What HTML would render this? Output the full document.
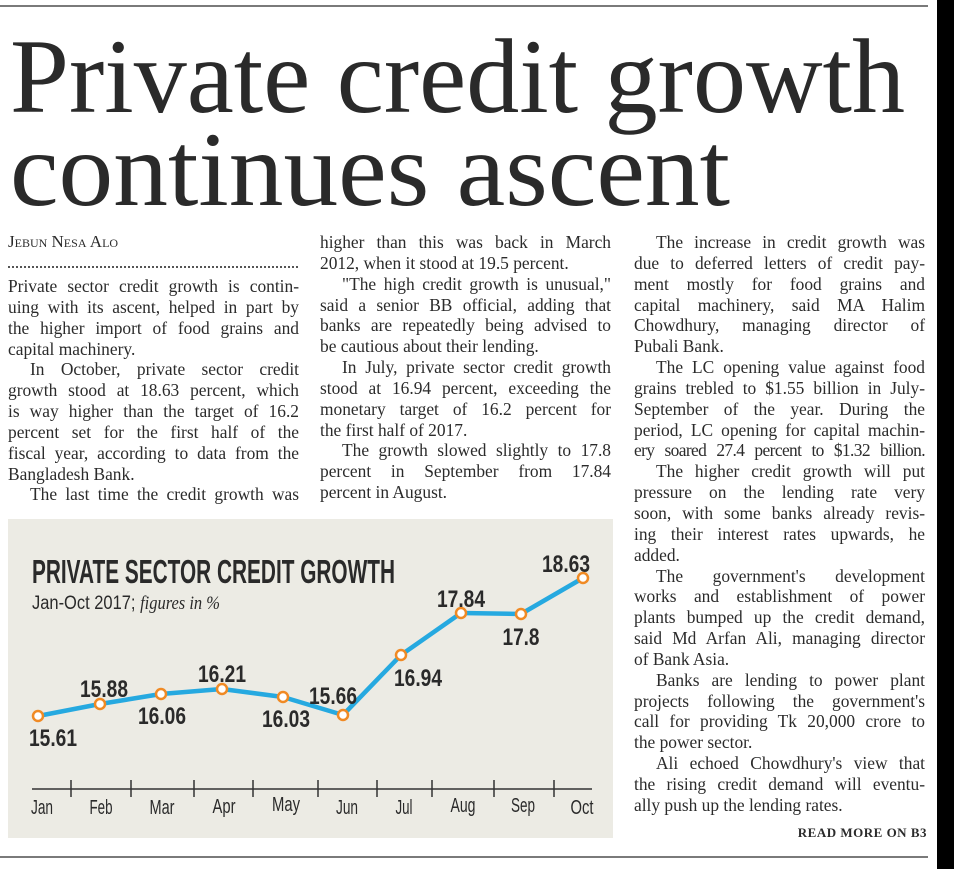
<!DOCTYPE html>
<html><head><meta charset="utf-8">
<style>
html,body{margin:0;padding:0;background:#fff;}
body{width:954px;height:869px;position:relative;overflow:hidden;font-family:"Liberation Serif",serif;color:#2b2b2b;}
.col{position:absolute;width:291px;font-size:17.4px;line-height:20.85px;}
.col div{text-align:justify;text-align-last:justify;white-space:nowrap;height:20.85px;}
.col div.e{text-align-last:left;}
.col div.i{text-indent:22px;}
</style></head><body>
<div style="position:absolute;left:0;top:5px;width:928px;height:1.5px;background:#7a7a7a"></div>
<div style="position:absolute;left:0;top:856px;width:928px;height:1.5px;background:#7a7a7a"></div>
<div style="position:absolute;left:937px;top:0;width:17px;height:869px;background:#000"></div>
<svg style="position:absolute;left:0;top:0" width="954" height="230">
<text x="10" y="112" font-family="Liberation Serif" font-size="106" fill="#2a2a2a" textLength="895" lengthAdjust="spacingAndGlyphs">Private credit growth</text>
<text x="10" y="205" font-family="Liberation Serif" font-size="106" fill="#2a2a2a" textLength="720" lengthAdjust="spacingAndGlyphs">continues ascent</text>
</svg>
<div style="position:absolute;left:8px;top:232px;font-size:17px;font-variant:small-caps;color:#2b2b2b">Jebun Nesa Alo</div>
<div style="position:absolute;left:8px;top:266px;width:290px;border-top:2px dotted #555"></div>
<div class="col" style="left:8px;top:276px">
<div>Private sector credit growth is contin-</div>
<div>uing with its ascent, helped in part by</div>
<div>the higher import of food grains and</div>
<div class="e">capital machinery.</div>
<div class="i">In October, private sector credit</div>
<div>growth stood at 18.63 percent, which</div>
<div>is way higher than the target of 16.2</div>
<div>percent set for the first half of the</div>
<div>fiscal year, according to data from the</div>
<div class="e">Bangladesh Bank.</div>
<div class="i">The last time the credit growth was</div>
</div>
<div class="col" style="left:320px;top:232px">
<div>higher than this was back in March</div>
<div class="e">2012, when it stood at 19.5 percent.</div>
<div class="i">"The high credit growth is unusual,"</div>
<div>said a senior BB official, adding that</div>
<div>banks are repeatedly being advised to</div>
<div class="e">be cautious about their lending.</div>
<div class="i">In July, private sector credit growth</div>
<div>stood at 16.94 percent, exceeding the</div>
<div>monetary target of 16.2 percent for</div>
<div class="e">the first half of 2017.</div>
<div class="i">The growth slowed slightly to 17.8</div>
<div>percent in September from 17.84</div>
<div class="e">percent in August.</div>
</div>
<div class="col" style="left:634px;top:232px">
<div class="i">The increase in credit growth was</div>
<div>due to deferred letters of credit pay-</div>
<div>ment mostly for food grains and</div>
<div>capital machinery, said MA Halim</div>
<div>Chowdhury, managing director of</div>
<div class="e">Pubali Bank.</div>
<div class="i">The LC opening value against food</div>
<div>grains trebled to $1.55 billion in July-</div>
<div>September of the year. During the</div>
<div>period, LC opening for capital machin-</div>
<div style="letter-spacing:-0.6px">ery soared 27.4 percent to $1.32 billion.</div>
<div class="i">The higher credit growth will put</div>
<div>pressure on the lending rate very</div>
<div>soon, with some banks already revis-</div>
<div>ing their interest rates upwards, he</div>
<div class="e">added.</div>
<div class="i">The government's development</div>
<div>works and establishment of power</div>
<div>plants bumped up the credit demand,</div>
<div>said Md Arfan Ali, managing director</div>
<div class="e">of Bank Asia.</div>
<div class="i">Banks are lending to power plant</div>
<div>projects following the government's</div>
<div>call for providing Tk 20,000 crore to</div>
<div class="e">the power sector.</div>
<div class="i">Ali echoed Chowdhury's view that</div>
<div>the rising credit demand will eventu-</div>
<div class="e">ally push up the lending rates.</div>
</div>
<div style="position:absolute;right:27px;top:825px;font-size:13px;font-weight:bold;letter-spacing:0.5px;color:#2b2b2b">READ MORE ON B3</div>

<svg style="position:absolute;left:0;top:0" width="954" height="869" font-family="'Liberation Sans Narrow','Liberation Sans',sans-serif">
<rect x="8" y="519" width="605" height="319" fill="#ecebe4"/>
<text x="32" y="583" font-size="33" font-weight="bold" fill="#2a2a2a" textLength="363" lengthAdjust="spacingAndGlyphs">PRIVATE SECTOR CREDIT GROWTH</text>
<text x="32" y="609" font-size="19" fill="#2a2a2a" textLength="188" lengthAdjust="spacingAndGlyphs">Jan-Oct 2017; <tspan font-family="Liberation Serif" font-style="italic">figures in %</tspan></text>
<polyline points="38,716 100,704 161,694 222,689 283,697 343,715 401,655 461,613 521,614 583,578" fill="none" stroke="#26a9e0" stroke-width="4.5" stroke-linejoin="round"/>
<g fill="#fff" stroke="#f08a24" stroke-width="2.5">
<circle cx="38" cy="716" r="5"/><circle cx="100" cy="704" r="5"/><circle cx="161" cy="694" r="5"/><circle cx="222" cy="689" r="5"/><circle cx="283" cy="697" r="5"/><circle cx="343" cy="715" r="5"/><circle cx="401" cy="655" r="5"/><circle cx="461" cy="613" r="5"/><circle cx="521" cy="614" r="5"/><circle cx="583" cy="578" r="5"/>
</g>
<g font-size="24" font-weight="bold" fill="#2a2a2a" text-anchor="middle" lengthAdjust="spacingAndGlyphs">
<text x="53" y="746" textLength="48" lengthAdjust="spacingAndGlyphs">15.61</text>
<text x="104" y="697" textLength="48" lengthAdjust="spacingAndGlyphs">15.88</text>
<text x="162" y="724" textLength="48" lengthAdjust="spacingAndGlyphs">16.06</text>
<text x="222" y="682" textLength="48" lengthAdjust="spacingAndGlyphs">16.21</text>
<text x="286" y="727" textLength="48" lengthAdjust="spacingAndGlyphs">16.03</text>
<text x="333" y="704" textLength="48" lengthAdjust="spacingAndGlyphs">15.66</text>
<text x="418" y="686" textLength="48" lengthAdjust="spacingAndGlyphs">16.94</text>
<text x="461" y="607" textLength="48" lengthAdjust="spacingAndGlyphs">17.84</text>
<text x="521" y="645" textLength="37" lengthAdjust="spacingAndGlyphs">17.8</text>
<text x="566" y="572" textLength="48" lengthAdjust="spacingAndGlyphs">18.63</text>
</g>
<line x1="32" y1="789" x2="592" y2="789" stroke="#333" stroke-width="1.5"/>
<g stroke="#333" stroke-width="1.5">
<line x1="71" y1="780" x2="71" y2="797"/><line x1="131" y1="780" x2="131" y2="797"/><line x1="194" y1="780" x2="194" y2="797"/><line x1="253" y1="780" x2="253" y2="797"/><line x1="318" y1="780" x2="318" y2="797"/><line x1="377" y1="780" x2="377" y2="797"/><line x1="432" y1="780" x2="432" y2="797"/><line x1="494" y1="780" x2="494" y2="797"/><line x1="554" y1="780" x2="554" y2="797"/>
</g>
<g font-size="20" fill="#2a2a2a" text-anchor="middle">
<text x="42" y="814" textLength="22" lengthAdjust="spacingAndGlyphs">Jan</text><text x="101" y="814" textLength="23" lengthAdjust="spacingAndGlyphs">Feb</text><text x="162" y="814" textLength="25" lengthAdjust="spacingAndGlyphs">Mar</text><text x="224" y="813" textLength="23" lengthAdjust="spacingAndGlyphs">Apr</text><text x="286" y="811" textLength="28" lengthAdjust="spacingAndGlyphs">May</text><text x="347" y="814" textLength="22" lengthAdjust="spacingAndGlyphs">Jun</text><text x="404" y="814" textLength="17" lengthAdjust="spacingAndGlyphs">Jul</text><text x="463" y="812" textLength="25" lengthAdjust="spacingAndGlyphs">Aug</text><text x="523" y="812" textLength="24" lengthAdjust="spacingAndGlyphs">Sep</text><text x="582" y="814" textLength="23" lengthAdjust="spacingAndGlyphs">Oct</text>
</g>
</svg>
</body></html>
